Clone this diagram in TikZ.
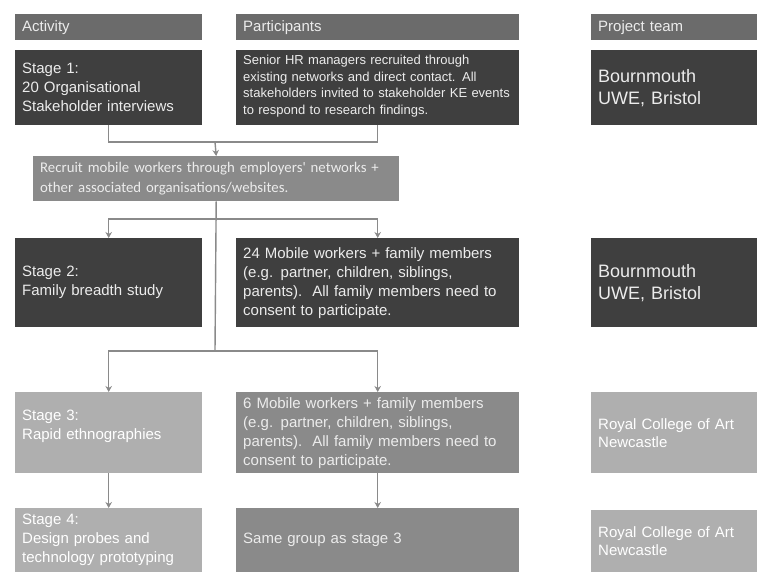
\documentclass[tikz,border=0pt]{standalone}
\usepackage{fontspec}
\setmainfont{Liberation Sans}
\newfontfamily\calib{Carlito}
\usetikzlibrary{arrows.meta}
\definecolor{hdr}{HTML}{6B6B6B}
\definecolor{dark}{HTML}{3F3F3F}
\definecolor{mid}{HTML}{8A8A8A}
\definecolor{light}{HTML}{AFAFAF}
\definecolor{conn}{HTML}{8A8A8A}
\definecolor{txt}{HTML}{ECECEC}
\begin{document}
\begin{tikzpicture}[x=1pt,y=-1pt,
  box/.style={anchor=north west, inner xsep=7pt, inner ysep=0pt, align=left, text=txt},
  colA/.style={box, minimum width=187pt, text width=173pt},
  colB/.style={box, minimum width=283pt, text width=269pt},
  colC/.style={box, minimum width=166pt, text width=152pt},
  hdrbox/.style={fill=hdr, minimum height=26pt, font=\fontsize{15}{17}\selectfont},
  fnorm/.style={font=\fontsize{15}{19}\selectfont},
  fsmall/.style={font=\fontsize{13}{16.5}\selectfont},
  fbig/.style={font=\fontsize{18}{22}\selectfont},
  line/.style={draw=conn, line width=1.4pt},
  arr/.style={line, -{Stealth[length=6pt,width=6.5pt]}}
]
\useasboundingbox (0,0) rectangle (768,578);
% headers
\node[colA, hdrbox] (h1) at (15,14) {Activity};
\node[colB, hdrbox] (h2) at (236,14) {Participants};
\node[colC, hdrbox] (h3) at (591,14) {Project team};
% row 1
\node[colA, fill=dark, minimum height=75pt, fnorm] (s1) at (15,50) {Stage 1:\\20 Organisational\\Stakeholder interviews};
\node[colB, fill=dark, minimum height=75pt, fsmall] (p1) at (236,50) {\mbox{}\\[-10pt]Senior HR managers recruited through\\existing networks and direct contact. All\\stakeholders invited to stakeholder KE events\\to respond to research findings.};
\node[colC, fill=dark, minimum height=75pt, fbig] (t1) at (591,50) {Bournmouth\\UWE, Bristol};
% recruit
\node[box, fill=mid, minimum width=364pt, text width=352pt, minimum height=45pt, font=\calib\fontsize{14.8}{20}\selectfont] (rec) at (33,156) {Recruit mobile workers through employers' networks +\\other associated organisations/websites.};
% row 2
\node[colA, fill=dark, minimum height=89pt, fnorm] (s2) at (15,238) {Stage 2:\\Family breadth study};
\node[colB, fill=dark, minimum height=89pt, fnorm] (p2) at (236,238) {24 Mobile workers + family members\\(e.g. partner, children, siblings,\\parents).\ \ All family members need to\\consent to participate.};
\node[colC, fill=dark, minimum height=89pt, fbig] (t2) at (591,238) {Bournmouth\\UWE, Bristol};
% row 3
\node[colA, fill=light, text=white, minimum height=81pt, fnorm] (s3) at (15,392) {Stage 3:\\Rapid ethnographies\\[-3pt]\mbox{}};
\node[colB, fill=mid, minimum height=81pt, fnorm] (p3) at (236,392) {6 Mobile workers + family members\\(e.g. partner, children, siblings,\\parents).\ \ All family members need to\\consent to participate.};
\node[colC, fill=light, text=white, minimum height=81pt, font=\fontsize{15}{18}\selectfont] (t3) at (591,392) {Royal College of Art\\Newcastle};
% row 4
\node[colA, fill=light, text=white, minimum height=64pt, fnorm] (s4) at (15,508) {Stage 4:\\Design probes and\\technology prototyping};
\node[colB, fill=mid, minimum height=64pt, fnorm] (p4) at (236,508) {Same group as stage 3};
\node[colC, fill=light, text=white, minimum height=62pt, font=\fontsize{15}{18}\selectfont] (t4) at (591,510) {Royal College of Art\\Newcastle};
% connectors
\coordinate (j1) at (215,142);
\coordinate (b2) at (215,219);
\coordinate (b3) at (215,351);
\draw[line] (s1.south) |- (p1.south |- j1) -- (p1.south);
\draw[arr] (j1) -- (rec.north);
\draw[line] (rec.south) -- (b3);
\draw[arr] (b2) -| (s2.north);
\draw[arr] (b2) -| (p2.north);
\draw[arr] (b3) -| (s3.north);
\draw[arr] (b3) -| (p3.north);
\draw[arr] (s3.south) -- (s4.north);
\draw[arr] (p3.south) -- (p4.north);
\end{tikzpicture}
\end{document}
